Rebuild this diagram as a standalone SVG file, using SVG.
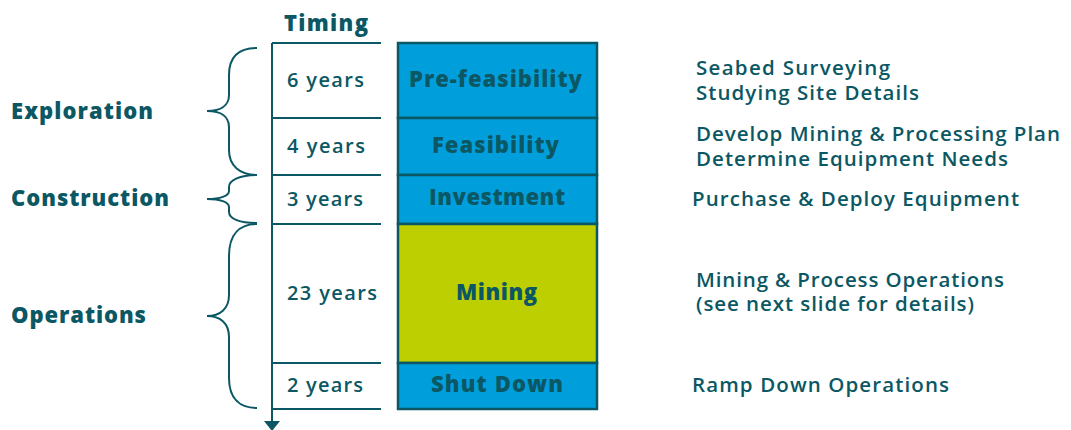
<svg xmlns="http://www.w3.org/2000/svg" width="1071" height="430" viewBox="0 0 1071 430">
<defs>
<style>
.t{font-family:"Open Sans","Liberation Sans",sans-serif;fill:#0b5763}
.grp{font-size:22px;font-weight:800}
.yr{font-size:20px;font-weight:600}
.bx{font-size:22px;font-weight:800}
.ds{font-size:20.5px;font-weight:600}
.ln{stroke:#0b5763;stroke-width:2;fill:none}
.box{stroke:#0b5763;stroke-width:2.5}
</style>
</defs>
<rect width="1071" height="430" fill="#ffffff"/>
<text class="t" x="284" y="31" style="font-size:22px;font-weight:800" textLength="84" lengthAdjust="spacing">Timing</text>
<g id="connectors">
<path class="ln" d="M272,43 L272,422"/>
<polygon points="264,421 280,421 272,431" fill="#0b5763"/>
<path class="ln" d="M272,43 H381 M272,118 H381 M272,175 H381 M272,224 H381 M272,363 H381 M272,409 H381"/>
<path class="ln" d="M257,48 C240,48 229,56 229,75 L229,95 C229,106 220,111 207,111 C220,111 229,116 229,127 L229,150 C229,166 240,175 257,175"/>
<path class="ln" d="M257,175 C240,175 229,180 229,187 L229,191 C229,196 220,199 207,199 C220,199 229,202 229,207 L229,212 C229,219 240,223 257,223"/>
<path class="ln" d="M257,224 C240,224 229,234 229,256 L229,295 C229,309 220,316 207,316 C220,316 229,323 229,337 L229,378 C229,399 240,408 257,408"/>
</g>
<g id="exploration"><text class="t grp" x="11" y="119" textLength="142" lengthAdjust="spacing">Exploration</text></g>
<g id="construction"><text class="t grp" x="11" y="206" textLength="158" lengthAdjust="spacing">Construction</text></g>
<g id="operations"><text class="t grp" x="11" y="323" textLength="135" lengthAdjust="spacing">Operations</text></g>
<g id="years">
<text class="t yr" x="287" y="87" textLength="77" lengthAdjust="spacing">6 years</text>
<text class="t yr" x="287" y="153" textLength="78" lengthAdjust="spacing">4 years</text>
<text class="t yr" x="287" y="206" textLength="76" lengthAdjust="spacing">3 years</text>
<text class="t yr" x="287" y="300" textLength="90" lengthAdjust="spacing">23 years</text>
<text class="t yr" x="287" y="392" textLength="76" lengthAdjust="spacing">2 years</text>
</g>
<g id="prefeasibility"><rect class="box" x="398" y="43" width="199" height="75" fill="#009fdc"/><text class="t bx" x="409" y="87" textLength="173" lengthAdjust="spacing">Pre-feasibility</text></g>
<g id="feasibility"><rect class="box" x="398" y="118" width="199" height="57" fill="#009fdc"/><text class="t bx" x="432" y="153" textLength="127" lengthAdjust="spacing">Feasibility</text></g>
<g id="investment"><rect class="box" x="398" y="175" width="199" height="49" fill="#009fdc"/><text class="t bx" x="429" y="205" textLength="136" lengthAdjust="spacing">Investment</text></g>
<g id="mining"><rect class="box" x="398" y="224" width="199" height="139" fill="#bdcf00"/><text class="t bx" x="456" y="300" textLength="81" lengthAdjust="spacing">Mining</text></g>
<g id="shutdown"><rect class="box" x="398" y="363" width="199" height="46" fill="#009fdc"/><text class="t bx" x="431" y="392" textLength="132" lengthAdjust="spacing">Shut Down</text></g>
<g id="descriptions">
<text class="t ds" x="696" y="75" textLength="194" lengthAdjust="spacing">Seabed Surveying</text>
<text class="t ds" x="696" y="100" textLength="223" lengthAdjust="spacing">Studying Site Details</text>
<text class="t ds" x="696" y="141" textLength="364" lengthAdjust="spacing">Develop Mining &amp; Processing Plan</text>
<text class="t ds" x="696" y="166" textLength="312" lengthAdjust="spacing">Determine Equipment Needs</text>
<text class="t ds" x="692" y="206" textLength="327" lengthAdjust="spacing">Purchase &amp; Deploy Equipment</text>
<text class="t ds" x="696" y="287" textLength="308" lengthAdjust="spacing">Mining &amp; Process Operations</text>
<text class="t ds" x="696" y="311" textLength="278" lengthAdjust="spacing">(see next slide for details)</text>
<text class="t ds" x="692" y="392" textLength="257" lengthAdjust="spacing">Ramp Down Operations</text>
</g>
</svg>
